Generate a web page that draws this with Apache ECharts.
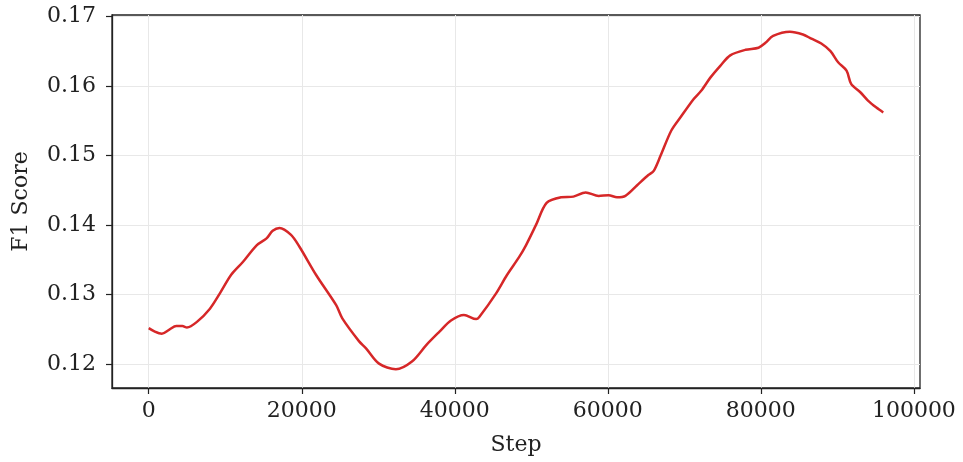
<!DOCTYPE html>
<html>
<head>
<meta charset="utf-8">
<script src="https://cdn.jsdelivr.net/npm/echarts@6/dist/echarts.min.js"></script>
<style>
  html, body { margin: 0; padding: 0; background: #fff; }
  #chart { width: 963px; height: 462px; }
</style>
</head>
<body>
<div id="chart"></div>
<script>
// training curve
const steps = [
  0, 800, 1700, 2700, 3600, 4400, 5000, 6300, 8000, 9300, 10800, 12300,
  14100, 15400, 16200, 17100, 18600, 19700, 21900, 24500, 25300, 27500,
  28400, 30100, 32300, 34400, 36300, 38000, 39500, 41200, 42800, 43200,
  45400, 46800, 48400, 49300, 50600, 52000, 53900, 55500, 57100, 58800,
  60100, 61200, 62300, 63800, 65300, 66000, 66900, 68300, 69500, 71200,
  72200, 73400, 74700, 76000, 78000, 79700, 80600, 81600, 83800, 85500,
  86600, 87900, 89100, 90100, 91200, 91800, 93000, 94000, 95100, 96000
]
const f1 = [
  0.1252, 0.1247, 0.1244, 0.1250, 0.1255, 0.1255, 0.1253, 0.1261, 0.1280, 0.1302, 0.1329, 0.1347,
  0.1371, 0.1381, 0.1392, 0.1396, 0.1386, 0.1369, 0.1328, 0.1285, 0.1266, 0.1233,
  0.1223, 0.1201, 0.1193, 0.1204, 0.1228, 0.1247, 0.1263, 0.1271, 0.1265, 0.1268,
  0.1302, 0.1328, 0.1354, 0.1371, 0.1400, 0.1432, 0.1440, 0.1441, 0.1447, 0.1442,
  0.1443, 0.1440, 0.1442, 0.1457, 0.1472, 0.1478, 0.1500, 0.1536, 0.1555, 0.1581,
  0.1593, 0.1612, 0.1629, 0.1644, 0.1652, 0.1655, 0.1662, 0.1672, 0.1678, 0.1674,
  0.1668, 0.1661, 0.1650, 0.1634, 0.1622, 0.1603, 0.1591, 0.1579, 0.1569, 0.1562
]
const xTicks = [0, 20000, 40000, 60000, 80000, 100000]
const yTicks = [0.12, 0.13, 0.14, 0.15, 0.16, 0.17]

const font = "DejaVu Serif"
const ink = "#222"
const chart = echarts.init(document.getElementById("chart"))

chart.setOption({
  animation: false,
  grid: {
    left: 112, right: 43, top: 15, bottom: 74,
    outerBoundsMode: "none",
    show: true, borderColor: ink, borderWidth: 1.3, backgroundColor: "#fff"
  },
  xAxis: {
    type: "value",
    min: -4800,
    max: 100800,
    name: "Step",
    nameLocation: "middle",
    nameGap: 46,
    nameTextStyle: { fontFamily: font, fontSize: 22, color: ink },
    axisLine: { show: true, onZero: false, lineStyle: { color: ink, width: 1.3 } },
    axisTick: { show: true, length: 6, customValues: xTicks, lineStyle: { color: ink, width: 1.2 } },
    axisLabel: {
      customValues: xTicks, margin: 12, fontFamily: font, fontSize: 22, color: ink,
      formatter: (v) => String(v)
    },
    splitLine: { show: true, lineStyle: { color: "#e8e8e8", width: 1 } }
  },
  yAxis: {
    type: "value",
    min: 0.1166,
    max: 0.1702,
    name: "F1 Score",
    nameLocation: "middle",
    nameGap: 80,
    nameTextStyle: { fontFamily: font, fontSize: 22, color: ink },
    axisLine: { show: true, onZero: false, lineStyle: { color: ink, width: 1.3 } },
    axisTick: { show: true, length: 6, customValues: yTicks, lineStyle: { color: ink, width: 1.2 } },
    axisLabel: {
      customValues: yTicks, margin: 16, fontFamily: font, fontSize: 22, color: ink,
      formatter: (v) => v.toFixed(2)
    },
    splitLine: { show: true, lineStyle: { color: "#e8e8e8", width: 1 } }
  },
  series: [{
    type: "line",
    data: steps.map((s, i) => [s, f1[i]]),
    showSymbol: false,
    smooth: 0.3,
    lineStyle: { color: "#d62728", width: 2.5 }
  }]
})
</script>
</body>
</html>
